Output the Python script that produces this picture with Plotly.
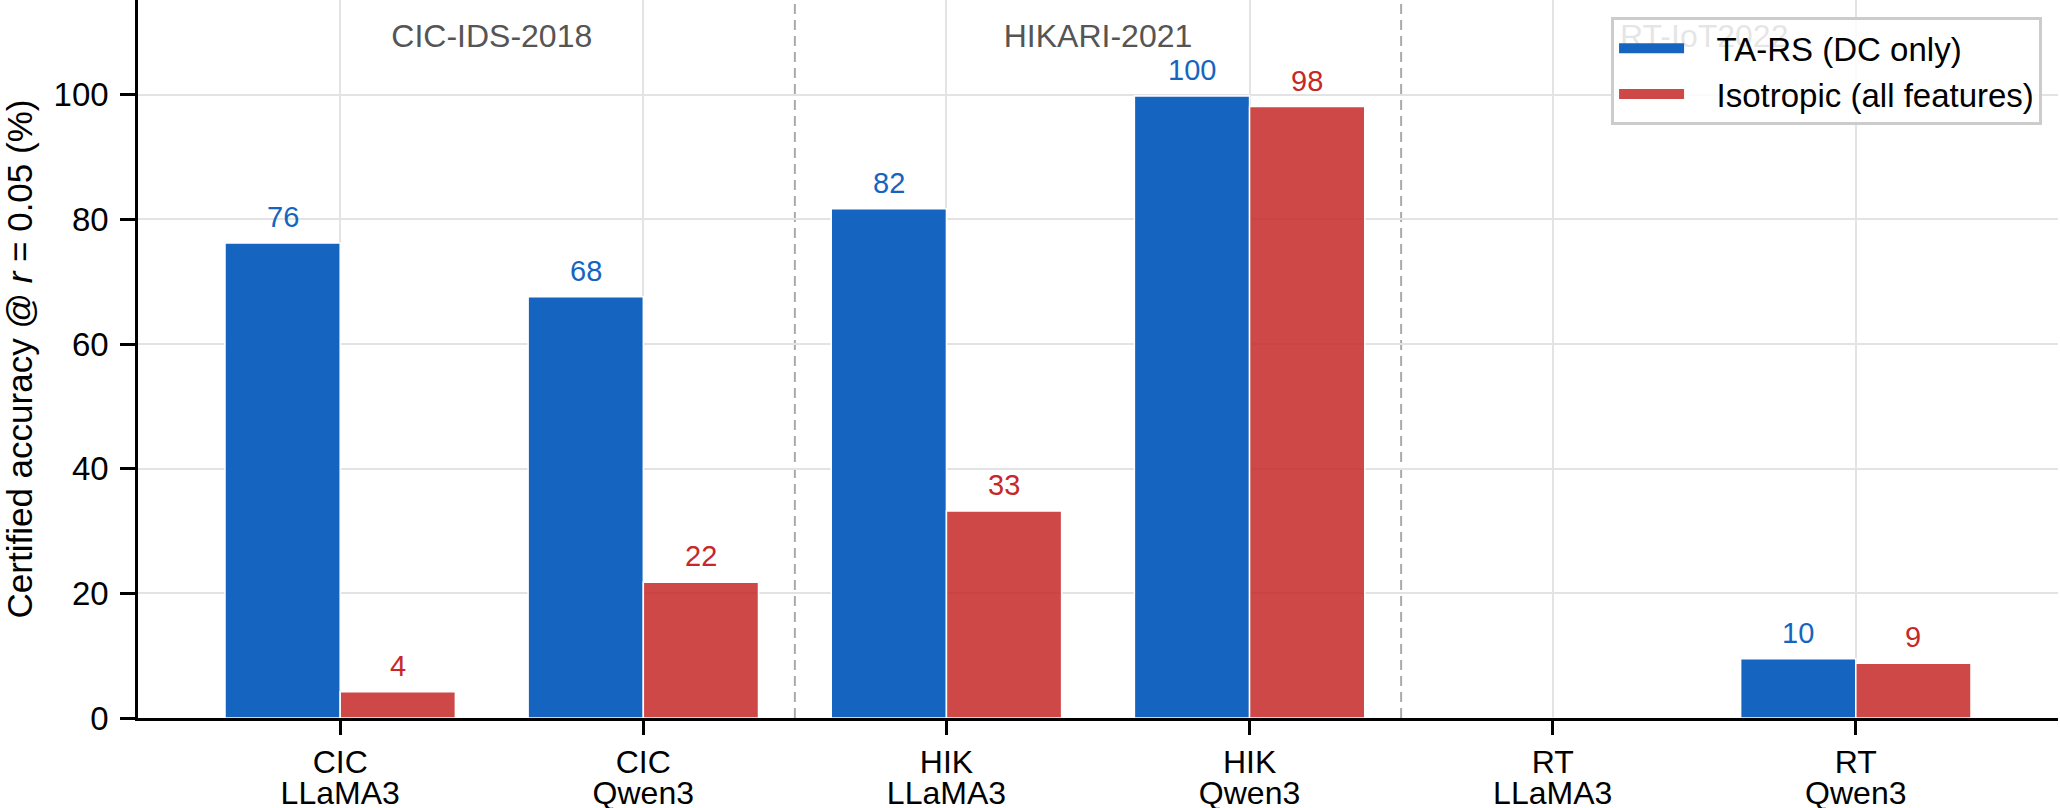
import plotly.graph_objects as go

# ---- data ----
datasets = ["CIC", "CIC", "HIK", "HIK", "RT", "RT"]
models = ["LLaMA3", "Qwen3", "LLaMA3", "Qwen3", "LLaMA3", "Qwen3"]
tars_values = [76.2, 67.6, 81.7, 99.8, 0.0, 9.5]
iso_values = [4.2, 21.8, 33.2, 98.1, 0.0, 8.8]
group_titles = ["CIC-IDS-2018", "HIKARI-2021", "RT-IoT2022"]
group_centers = [0.5, 2.5, 4.5]
separators = [1.5, 3.5]
series_names = ["TA-RS (DC only)", "Isotropic (all features)"]
y_ticks = [0, 20, 40, 60, 80, 100]

BLUE = "#1565C0"
RED_BAR = "rgba(198,40,40,0.85)"
RED_TXT = "#C62828"
FONT = "Liberation Sans, Arial, sans-serif"
BW = 0.38
NBSP = "\u00a0"
XR = [-0.667, 5.667]

xpos = list(range(len(datasets)))

fig = go.Figure()
fig.add_trace(go.Bar(x=xpos, y=tars_values, name=series_names[0],
                     marker=dict(color=BLUE, line=dict(color="white", width=1.5)),
                     showlegend=False, offsetgroup="a"))
fig.add_trace(go.Bar(x=xpos, y=iso_values, name=series_names[1],
                     marker=dict(color=RED_BAR, line=dict(color="white", width=1.5)),
                     showlegend=False, offsetgroup="b"))

# group titles (drawn as a trace so the legend box covers them)
fig.add_trace(go.Scatter(x=group_centers, y=[108.9] * 3, mode="text", text=group_titles,
                         textfont=dict(size=32, color="#555555", family=FONT),
                         showlegend=False, hoverinfo="skip"))

# anchor for second tick-label row
fig.add_trace(go.Scatter(x=[None], y=[None], xaxis="x2", showlegend=False, hoverinfo="skip"))

# legend entries
fig.add_trace(go.Scatter(x=[None], y=[None], mode="lines", name=NBSP * 3 + series_names[0],
                         line=dict(color=BLUE, width=18)))
fig.add_trace(go.Scatter(x=[None], y=[None], mode="lines", name=NBSP * 3 + series_names[1],
                         line=dict(color=RED_BAR, width=18)))

# value labels
for i in xpos:
    for v, off, col in ((tars_values[i], -BW / 2, BLUE), (iso_values[i], BW / 2, RED_TXT)):
        if v > 0:
            fig.add_annotation(x=i + off, y=v, text=f"{v:.0f}", showarrow=False, yanchor="middle", yshift=26,
                               font=dict(size=29, color=col, family=FONT))

for s in separators:
    fig.add_shape(type="line", x0=s, x1=s, y0=0, y1=1, yref="paper", xref="x",
                  line=dict(color="#aaaaaa", width=2, dash="10px,6px"), layer="between")

fig.update_layout(
    width=2060, height=808,
    margin=dict(l=138, r=2, t=0, b=90),
    plot_bgcolor="white", paper_bgcolor="white",
    barmode="group", bargap=0.24, bargroupgap=0,
    font=dict(family=FONT, size=33, color="black"),
    legend=dict(x=0.9917, xanchor="right", y=0.976, yanchor="top",
                bgcolor="rgba(255,255,255,0.85)", bordercolor="#cccccc", borderwidth=3,
                font=dict(size=33, family=FONT), itemwidth=65, tracegroupgap=0),
    xaxis=dict(range=XR, tickmode="array", tickvals=xpos, ticktext=datasets,
               showline=True, linecolor="black", linewidth=2.5, ticks="outside", ticklen=14, tickwidth=2.5,
               tickcolor="black", showgrid=True, gridcolor="#e3e3e3", gridwidth=2, zeroline=False,
               tickfont=dict(size=32, family=FONT), ticklabelstandoff=0, automargin=False),
    xaxis2=dict(range=XR, overlaying="x", anchor="y", side="bottom", tickmode="array", tickvals=xpos,
                ticktext=models, showline=False, ticks="outside", ticklen=14, tickwidth=0,
                tickcolor="rgba(0,0,0,0)", showgrid=False, zeroline=False,
                tickfont=dict(size=32, family=FONT), ticklabelstandoff=33, automargin=False),
    yaxis=dict(range=[0, 115.2], tickmode="array", tickvals=y_ticks,
               showline=True, linecolor="black", linewidth=2.5, ticks="outside", ticklen=15, tickwidth=2.5,
               tickcolor="black", showgrid=True, gridcolor="#e3e3e3", gridwidth=2, zeroline=False,
               tickfont=dict(size=33, family=FONT), ticklabelstandoff=5,
               title=dict(text="Certified accuracy @ <i>r</i> = 0.05 (%)", font=dict(size=35, family=FONT), standoff=27),
               automargin=False),
)

fig.write_html("out.html")
